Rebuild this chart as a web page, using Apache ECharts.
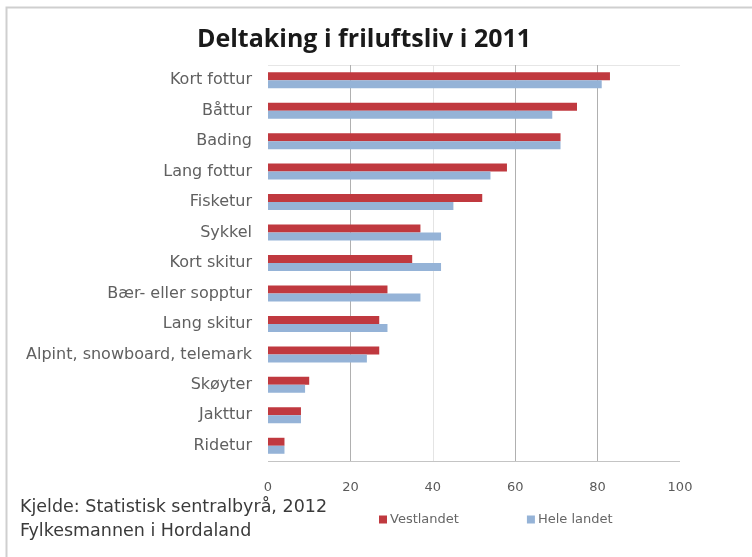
<!DOCTYPE html>
<html><head><meta charset="utf-8">
<script src="https://cdn.jsdelivr.net/npm/echarts@6/dist/echarts.min.js"></script>
<style>html,body{margin:0;padding:0;background:#fff}#c{width:752px;height:557px}</style>
</head><body><div id="c"></div>
<script>
var categories = ["Kort fottur","Båttur","Bading","Lang fottur","Fisketur","Sykkel","Kort skitur","Bær- eller sopptur","Lang skitur","Alpint, snowboard, telemark","Skøyter","Jakttur","Ridetur"];
var vestlandet = [83,75,71,58,52,37,35,29,27,27,10,8,4];
var heleLandet = [81,69,71,54,45,42,42,37,29,24,9,8,4];
var xTicks = [0,20,40,60,80,100];

var chart = echarts.init(document.getElementById('c'), null, {renderer:'canvas'});
var font = '"DejaVu Sans", sans-serif';
chart.setOption({
  animation:false,
  title:{text:'Deltaking i friluftsliv i 2011', left:359, top:22, textAlign:'center',
    textStyle:{fontFamily:'"Open Sans", sans-serif', fontSize:25, fontWeight:'bold', color:'#1a1a1a'}},
  grid:{left:268, right:72, top:65, bottom:96, containLabel:false},
  xAxis:{type:'value', min:xTicks[0], max:xTicks[xTicks.length-1], interval:20,
    axisLine:{show:false}, axisTick:{show:false},
    axisLabel:{fontFamily:font, fontSize:13, color:'#5a5a5a', margin:20},
    splitLine:{show:true, lineStyle:{color:['rgba(0,0,0,0)','#b0b0b0','#e4e4e4','#b0b0b0','#b0b0b0','rgba(0,0,0,0)'], width:1}}},
  yAxis:{type:'category', data:categories, inverse:true,
    axisLine:{show:false}, axisTick:{show:false},
    axisLabel:{fontFamily:font, fontSize:16, color:'#606060', margin:16}},
  legend:{data:['Vestlandet','Hele landet'], top:508, left:374, itemGap:68,
    itemWidth:8, itemHeight:8, icon:'rect',
    textStyle:{fontFamily:font, fontSize:13, color:'#666', padding:[0,0,0,-2]}},
  series:[
    {name:'Vestlandet', type:'bar', data:vestlandet, barWidth:8, barGap:'0%',
      itemStyle:{color:'#c0393f'}},
    {name:'Hele landet', type:'bar', data:heleLandet, barWidth:8,
      itemStyle:{color:'#95b3d7'}}
  ],
  graphic:[
    {type:'rect', shape:{x:6.5,y:7.5,width:760,height:560}, style:{fill:'none', stroke:'#cfcfcf', lineWidth:2}},
    {type:'line', shape:{x1:268,y1:461.5,x2:680,y2:461.5}, style:{stroke:'#c4c4c4', lineWidth:1}},
    {type:'line', shape:{x1:268,y1:65.5,x2:680,y2:65.5}, style:{stroke:'#e6e6e6', lineWidth:1}},
    {type:'text', left:20, top:498, style:{text:'Kjelde: Statistisk sentralbyrå, 2012', font:'17.5px "DejaVu Sans", sans-serif', fill:'#3a3a3a'}},
    {type:'text', left:20, top:522, style:{text:'Fylkesmannen i Hordaland', font:'17.5px "DejaVu Sans", sans-serif', fill:'#3a3a3a'}}
  ]
});
</script></body></html>
